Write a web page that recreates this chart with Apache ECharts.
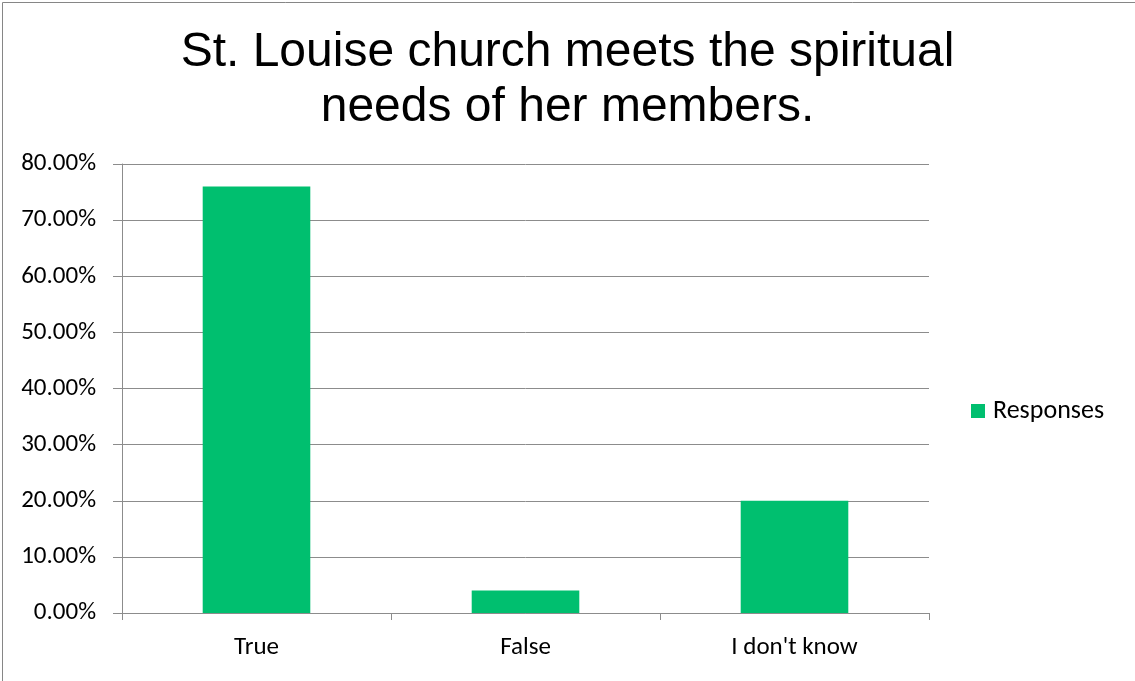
<!DOCTYPE html>
<html>
<head>
<meta charset="utf-8">
<script src="https://cdn.jsdelivr.net/npm/echarts@6/dist/echarts.min.js"></script>
<style>
html,body{margin:0;padding:0;background:#fff;}
#chart{width:1135px;height:681px;}
</style>
</head>
<body>
<div id="chart"></div>
<script>
const categories = ["True", "False", "I don't know"];
const responses = [76, 4, 20];
const seriesName = "Responses";
const titleText = "St. Louise church meets the spiritual\nneeds of her members.";

const chart = echarts.init(document.getElementById('chart'));
const labelFont = "Carlito, Lato, 'Liberation Sans', sans-serif";
const gridColor = '#8c8c8c';
chart.setOption({
  animation: false,
  backgroundColor: '#fff',
  graphic: [{
    type: 'rect', left: 0, top: 0, silent: true,
    shape: {x: 0.5, y: 0.5, width: 1133, height: 679},
    style: {fill: 'none', stroke: '#868686', lineWidth: 1}
  }],
  title: {
    text: titleText,
    left: 'center',
    top: 20,
    textStyle: {
      fontFamily: "'Liberation Sans', Arial, sans-serif",
      fontSize: 48, fontWeight: 'normal', color: '#000', lineHeight: 55
    }
  },
  legend: {
    left: 971, top: 398, padding: 0,
    itemWidth: 14, itemHeight: 14, itemGap: 8,
    icon: 'rect',
    data: [seriesName],
    textStyle: {fontFamily: labelFont, fontSize: 26, color: '#000', padding: [0,0,0,3]}
  },
  grid: {left: 122, right: 206, top: 164, bottom: 68, containLabel: false},
  xAxis: {
    type: 'category',
    data: categories,
    axisLine: {lineStyle: {color: gridColor, width: 1}},
    axisTick: {show: true, length: 7, lineStyle: {color: gridColor}},
    axisLabel: {fontFamily: labelFont, fontSize: 25, color: '#000', margin: 22}
  },
  yAxis: {
    type: 'value',
    min: 0, max: 80, interval: 10,
    axisLine: {show: true, lineStyle: {color: gridColor, width: 1}},
    axisTick: {show: true, length: 9, lineStyle: {color: gridColor}},
    splitLine: {lineStyle: {color: gridColor, width: 1}},
    axisLabel: {
      fontFamily: labelFont, fontSize: 25, color: '#000', margin: 26,
      padding: [4, 0, 0, 0],
      formatter: v => v.toFixed(2) + '%'
    }
  },
  series: [{
    name: seriesName,
    type: 'bar',
    data: responses,
    barWidth: '40%',
    itemStyle: {color: '#00bf6f'}
  }]
});
</script>
</body>
</html>
